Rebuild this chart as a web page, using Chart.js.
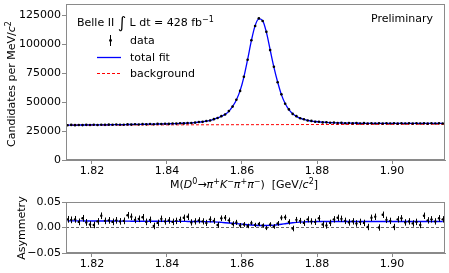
<html>
<head>
<script src="https://cdn.jsdelivr.net/npm/chart.js@4.4.0/dist/chart.umd.min.js"></script>
<style>
  body { margin: 0; width: 449px; height: 273px; position: relative; overflow: hidden; background: #fff; font-family: "DejaVu Sans", sans-serif; }
  canvas { position: absolute; left: 0; }
  #topChart { top: 0; }
  #botChart { top: 190px; }
  .lbl { position: absolute; font-size: 11px; line-height: 13px; color: #000; white-space: nowrap; transform: translateY(-50%); }
  .lbl sup { font-size: 8px; line-height: 0; vertical-align: 4px; }
  .rot { position: absolute; font-size: 11px; line-height: 13px; white-space: nowrap; transform: translate(-50%, -50%) rotate(-90deg); }
  .rot sup { font-size: 8px; line-height: 0; vertical-align: 4px; }
</style>
</head>
<body>
<canvas id="topChart" width="449" height="190"></canvas>
<canvas id="botChart" width="449" height="83"></canvas>

<div class="rot" style="left:11px;top:84px;">Candidates per MeV/<i>c</i><sup>2</sup></div>
<div class="rot" style="left:21px;top:228px;">Asymmetry</div>
<div class="lbl" style="left:170px;top:184px;">M(<i>D</i><sup>0</sup>→<i>π</i><sup>+</sup><i>K</i><sup>−</sup><i>π</i><sup>+</sup><i>π</i><sup>−</sup>)&nbsp;&nbsp;[GeV/<i>c</i><sup>2</sup>]</div>

<div class="lbl" style="left:77px;top:22px;">Belle II <span style="font-size:16px;vertical-align:-2px;">∫</span> L dt = 428 fb<sup>−1</sup></div>
<div class="lbl" style="left:130px;top:40px;">data</div>
<div class="lbl" style="left:130px;top:57px;">total fit</div>
<div class="lbl" style="left:130px;top:73px;">background</div>
<div class="lbl" style="left:371px;top:18px;">Preliminary</div>

<script>
// bin centres, GeV/c^2
const massBins = [
  1.8135,1.8145,1.8155,1.8165,1.8175,1.8185,1.8195,1.8205,1.8215,1.8225,
  1.8235,1.8245,1.8255,1.8265,1.8275,1.8285,1.8295,1.8305,1.8315,1.8325,
  1.8335,1.8345,1.8355,1.8365,1.8375,1.8385,1.8395,1.8405,1.8415,1.8425,
  1.8435,1.8445,1.8455,1.8465,1.8475,1.8485,1.8495,1.8505,1.8515,1.8525,
  1.8535,1.8545,1.8555,1.8565,1.8575,1.8585,1.8595,1.8605,1.8615,1.8625,
  1.8635,1.8645,1.8655,1.8665,1.8675,1.8685,1.8695,1.8705,1.8715,1.8725,
  1.8735,1.8745,1.8755,1.8765,1.8775,1.8785,1.8795,1.8805,1.8815,1.8825,
  1.8835,1.8845,1.8855,1.8865,1.8875,1.8885,1.8895,1.8905,1.8915,1.8925,
  1.8935,1.8945,1.8955,1.8965,1.8975,1.8985,1.8995,1.9005,1.9015,1.9025,
  1.9035,1.9045,1.9055,1.9065,1.9075,1.9085,1.9095,1.9105,1.9115,1.9125,
  1.9135
];

const dataVals = [
  30050,30380,30150,30310,30200,30420,30260,30480,30330,30520,
  30400,30610,30450,30700,30540,30560,30820,30650,30880,30760,
  31050,30860,31120,30980,31300,31120,31400,31250,31550,31480,
  31800,31690,32080,32050,32350,32850,33020,33700,34200,35350,
  36300,37950,39400,42300,46200,52200,59800,72100,86800,103600,
  116000,122600,120300,110900,95100,80700,67300,56800,48700,43800,
  39900,37950,36100,35250,34150,33850,33150,33100,32550,32600,
  32200,32350,31950,32150,31800,32050,31700,31950,31650,31900,
  31600,31850,31550,31800,31500,31850,31600,31750,31450,31800,
  31550,31750,31500,31850,31600,31700,31450,31800,31550,31850,
  31650
];

const fitVals = [
  30200,30220,30240,30260,30290,30310,30340,30370,30400,30430,
  30460,30500,30530,30570,30610,30650,30700,30740,30790,30840,
  30900,30950,31010,31070,31140,31210,31290,31370,31460,31560,
  31670,31800,31950,32120,32400,32700,33100,33600,34300,35200,
  36400,37800,39500,42100,46400,52000,60000,71800,87000,103300,
  116300,122100,120700,110600,95400,80400,67500,56600,48900,43600,
  40100,37800,36200,35100,34300,33700,33300,33000,32700,32500,
  32350,32200,32100,32000,31950,31900,31850,31800,31780,31760,
  31740,31720,31700,31690,31680,31670,31660,31650,31650,31640,
  31640,31640,31640,31640,31650,31650,31650,31660,31660,31670,
  31680
];

const bgMass = [1.8131, 1.9141];
const bgVals = [30200, 30950];

const asymVals = [
  0.016,0.015,0.016,0.011,0.018,0.010,0.006,0.005,0.012,0.023,
  0.013,0.014,0.011,0.014,0.012,0.013,0.024,0.021,0.015,0.017,
  0.020,0.011,0.015,0.003,0.009,0.017,0.012,0.014,0.011,0.013,
  0.015,0.019,0.021,0.010,0.012,0.014,0.012,0.009,0.016,0.013,
  0.005,0.018,0.019,0.014,0.007,0.010,0.004,0.006,0.003,0.009,
  0.005,0.007,0.004,-0.001,0.006,0.002,0.008,0.019,0.020,0.011,
  -0.002,0.015,0.013,0.009,0.016,0.012,0.011,0.018,0.006,0.004,
  0.009,0.016,0.019,0.017,0.013,0.010,0.012,0.008,0.011,0.009,
  0.001,0.019,0.021,0.000,0.025,0.015,0.013,0.001,0.016,0.018,
  0.010,0.012,0.008,0.011,0.005,0.023,0.014,0.016,0.012,0.018,
  0.016
];

const asymErr = [
  0.0066,0.0066,0.0066,0.0066,0.0066,0.0066,0.0066,0.0065,0.0065,0.0065,
  0.0065,0.0065,0.0065,0.0065,0.0065,0.0065,0.0065,0.0065,0.0065,0.0065,
  0.0065,0.0065,0.0064,0.0064,0.0064,0.0064,0.0064,0.0064,0.0064,0.0063,
  0.0063,0.0063,0.0063,0.0062,0.0062,0.0061,0.0061,0.0060,0.0059,0.0058,
  0.0057,0.0056,0.0055,0.0054,0.0052,0.0050,0.0048,0.0046,0.0044,0.0042,
  0.0041,0.0040,0.0040,0.0041,0.0043,0.0045,0.0047,0.0049,0.0051,0.0053,
  0.0055,0.0057,0.0058,0.0059,0.0060,0.0061,0.0061,0.0062,0.0062,0.0062,
  0.0063,0.0063,0.0063,0.0063,0.0063,0.0063,0.0063,0.0063,0.0063,0.0063,
  0.0063,0.0063,0.0063,0.0063,0.0063,0.0063,0.0063,0.0063,0.0063,0.0063,
  0.0063,0.0063,0.0063,0.0063,0.0063,0.0063,0.0063,0.0063,0.0063,0.0063,
  0.0063
];

const asymFit = [
  0.0130,0.0130,0.0129,0.0129,0.0129,0.0128,0.0128,0.0128,0.0127,0.0127,
  0.0127,0.0126,0.0126,0.0126,0.0125,0.0125,0.0125,0.0124,0.0124,0.0124,
  0.0123,0.0123,0.0123,0.0122,0.0122,0.0122,0.0121,0.0121,0.0120,0.0120,
  0.0120,0.0120,0.0119,0.0119,0.0118,0.0117,0.0116,0.0115,0.0113,0.0110,
  0.0106,0.0100,0.0094,0.0088,0.0082,0.0076,0.0069,0.0062,0.0055,0.0049,
  0.0044,0.0040,0.0038,0.0038,0.0041,0.0047,0.0055,0.0064,0.0074,0.0084,
  0.0093,0.0100,0.0106,0.0110,0.0113,0.0115,0.0116,0.0117,0.0117,0.0118,
  0.0118,0.0118,0.0118,0.0118,0.0118,0.0118,0.0118,0.0118,0.0118,0.0118,
  0.0118,0.0118,0.0118,0.0118,0.0118,0.0118,0.0118,0.0118,0.0118,0.0118,
  0.0118,0.0118,0.0118,0.0118,0.0118,0.0118,0.0118,0.0118,0.0118,0.0118,
  0.0118
];

const zeroMass = [1.8131, 1.9141];
const zeroVals = [0, 0];

const xTicks = [1.82, 1.84, 1.86, 1.88, 1.90];
const yTicksTop = [0, 25000, 50000, 75000, 100000, 125000];
const yTicksBot = [-0.05, 0, 0.05];

const spine = '#8a8a8a';
const tickFont = { family: 'DejaVu Sans', size: 11 };

function pts(xs, ys) {
  return xs.map((x, i) => ({ x: x, y: ys[i] }));
}

// vertical error bars through the y scale
const errorBars = {
  id: 'errorBars',
  afterDatasetsDraw(chart) {
    const ctx = chart.ctx;
    const ys = chart.scales.y;
    chart.data.datasets.forEach((ds, k) => {
      if (!ds.errors) return;
      const meta = chart.getDatasetMeta(k);
      ctx.save();
      ctx.beginPath();
      ctx.rect(chart.chartArea.left, chart.chartArea.top, chart.chartArea.width, chart.chartArea.height);
      ctx.clip();
      ctx.strokeStyle = '#000';
      ctx.lineWidth = 1;
      meta.data.forEach((p, i) => {
        const v = ds.data[i].y, e = ds.errors[i];
        const x = Math.round(p.x) + 0.5;
        ctx.beginPath();
        ctx.moveTo(x, ys.getPixelForValue(v - e));
        ctx.lineTo(x, ys.getPixelForValue(v + e));
        ctx.stroke();
      });
      ctx.restore();
    });
  }
};

// full box round the plot area
const frame = {
  id: 'frame',
  afterDraw(chart) {
    const a = chart.chartArea, ctx = chart.ctx;
    ctx.save();
    ctx.strokeStyle = spine;
    ctx.lineWidth = 1;
    ctx.strokeRect(Math.round(a.left) + 0.5, Math.round(a.top) + 0.5,
                   Math.round(a.right - a.left) - 1, Math.round(a.bottom - a.top) - 1);
    ctx.restore();
  }
};

// legend symbols next to the html legend text
const legendKeys = {
  id: 'legendKeys',
  afterDraw(chart) {
    const ctx = chart.ctx;
    ctx.save();
    ctx.strokeStyle = '#000';
    ctx.lineWidth = 1;
    ctx.beginPath(); ctx.moveTo(110.5, 35); ctx.lineTo(110.5, 46); ctx.stroke();
    ctx.fillStyle = '#000';
    ctx.beginPath(); ctx.arc(110.5, 40.5, 1.4, 0, Math.PI * 2); ctx.fill();
    ctx.strokeStyle = '#0000ff';
    ctx.lineWidth = 1.3;
    ctx.beginPath(); ctx.moveTo(97, 57.5); ctx.lineTo(121, 57.5); ctx.stroke();
    ctx.strokeStyle = '#ff0000';
    ctx.lineWidth = 1;
    ctx.setLineDash([3, 2]);
    ctx.beginPath(); ctx.moveTo(97, 73.5); ctx.lineTo(121, 73.5); ctx.stroke();
    ctx.restore();
  }
};

function xScale(h, pad) {
  return {
    type: 'linear', min: 1.8131, max: 1.9141,
    afterBuildTicks: s => { s.ticks = xTicks.map(v => ({ value: v })); },
    afterFit: s => { s.height = h; s.paddingLeft = 0; s.paddingRight = 0; },
    ticks: { font: tickFont, color: '#000', padding: pad, autoSkip: false, maxRotation: 0,
             callback: v => v.toFixed(2) },
    grid: { drawOnChartArea: false, tickLength: 4, tickColor: spine, color: spine },
    border: { color: spine }
  };
}

function yScale(lo, hi, tickList, fmt) {
  return {
    type: 'linear', min: lo, max: hi,
    afterBuildTicks: s => { s.ticks = tickList.map(v => ({ value: v })); },
    afterFit: s => { s.width = 66; s.paddingTop = 0; s.paddingBottom = 0; },
    ticks: { font: tickFont, color: '#000', padding: 1, autoSkip: false, callback: fmt },
    grid: { drawOnChartArea: false, tickLength: 4, tickColor: spine, color: spine },
    border: { color: spine }
  };
}

new Chart(document.getElementById('topChart'), {
  type: 'line',
  data: {
    datasets: [
      { label: 'data', data: pts(massBins, dataVals), showLine: false,
        pointRadius: 1.3, pointBackgroundColor: '#000', pointBorderWidth: 0, order: 0 },
      { label: 'total fit', data: pts(massBins, fitVals), borderColor: '#0000ff', borderWidth: 1.3,
        pointRadius: 0, cubicInterpolationMode: 'monotone', fill: false, order: 1 },
      { label: 'background', data: pts(bgMass, bgVals), borderColor: '#ff0000', borderWidth: 1,
        borderDash: [3, 2], pointRadius: 0, fill: false, order: 2 }
    ]
  },
  options: {
    responsive: false, animation: false,
    layout: { padding: { left: 0, right: 4, top: 4, bottom: 0 } },
    plugins: { legend: { display: false }, tooltip: { enabled: false } },
    scales: {
      x: xScale(30, 1),
      y: yScale(0, 135000, yTicksTop, v => String(v))
    }
  },
  plugins: [frame, legendKeys]
});

new Chart(document.getElementById('botChart'), {
  type: 'line',
  data: {
    datasets: [
      { label: 'asymmetry', data: pts(massBins, asymVals), errors: asymErr, showLine: false,
        pointRadius: 1.2, pointBackgroundColor: '#000', pointBorderWidth: 0, order: 0 },
      { label: 'fit', data: pts(massBins, asymFit), borderColor: '#0000ff', borderWidth: 1.4,
        pointRadius: 0, cubicInterpolationMode: 'monotone', fill: false, order: 1 },
      { label: 'zero', data: pts(zeroMass, zeroVals), borderColor: '#666', borderWidth: 1,
        borderDash: [3, 2], pointRadius: 0, fill: false, order: 2 }
    ]
  },
  options: {
    responsive: false, animation: false,
    layout: { padding: { left: 0, right: 4, top: 12, bottom: 0 } },
    plugins: { legend: { display: false }, tooltip: { enabled: false } },
    scales: {
      x: xScale(20, 1),
      y: yScale(-0.05, 0.05, yTicksBot, v => (v < 0 ? '\u2212' : '') + Math.abs(v).toFixed(2))
    }
  },
  plugins: [errorBars, frame]
});
</script>
</body>
</html>
